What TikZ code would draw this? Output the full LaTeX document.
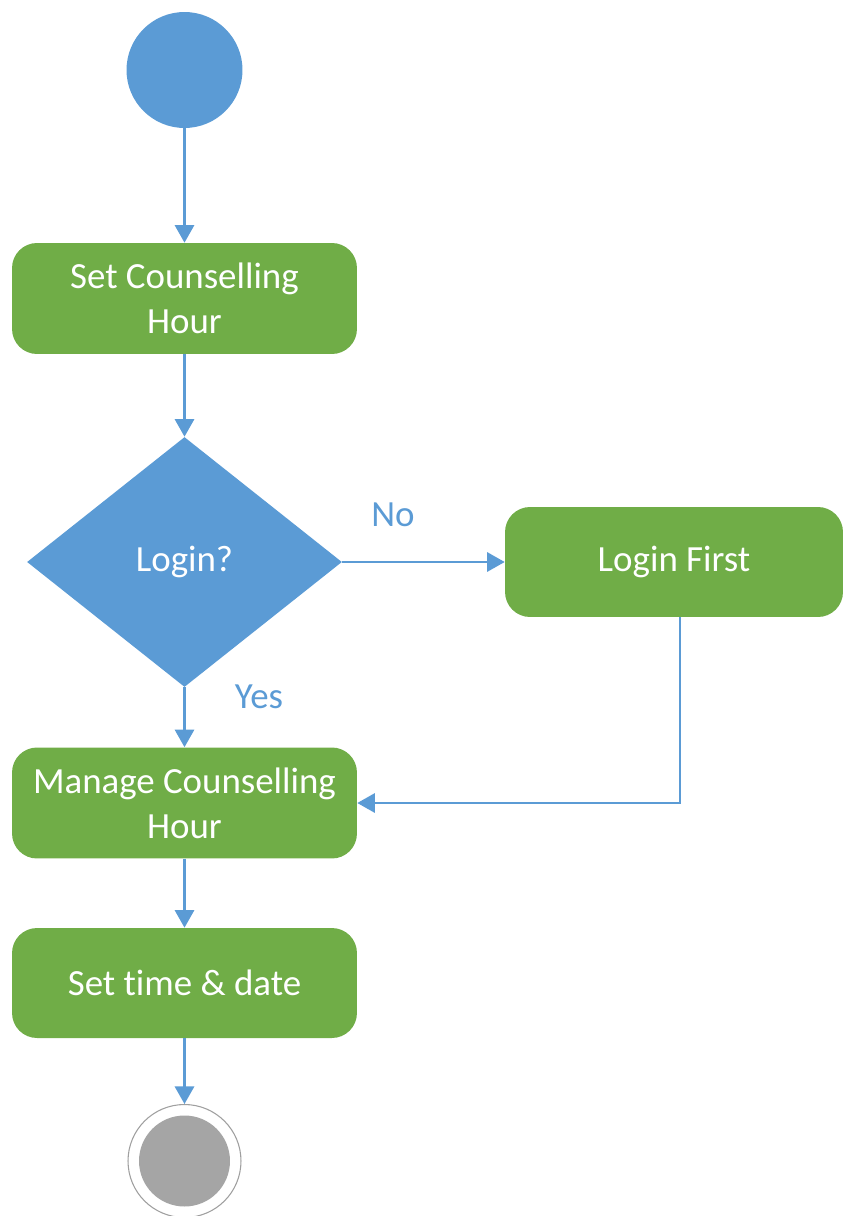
\documentclass[tikz,border=0pt]{standalone}
\usepackage{fontspec}
\setmainfont{Carlito}[Ligatures=NoCommon]
\usetikzlibrary{positioning,shapes.geometric,arrows.meta}

\definecolor{actblue}{HTML}{5B9BD5}
\definecolor{actgreen}{HTML}{70AD47}
\definecolor{endgrey}{HTML}{A5A5A5}

\tikzset{
  activity/.style={fill=actgreen, rounded corners=0.5cm, minimum width=6.9cm, minimum height=2.22cm,
    text=white, align=center, inner sep=2pt, font=\fontsize{21}{25.5}\selectfont},
  decision/.style={diamond, fill=actblue, minimum width=6.3cm, minimum height=5cm, inner sep=0pt,
    text=white, font=\fontsize{21}{25.5}\selectfont},
  guard/.style={text=actblue, font=\fontsize{21}{25.5}\selectfont},
  flow/.style={draw=actblue, line width=1.2pt, -{Triangle[width=11pt,length=10pt]}},
}

\begin{document}
\begin{tikzpicture}[x=0.02cm,y=-0.02cm]
\useasboundingbox (0,0) rectangle (843,1216);

		\node[circle, fill=actblue, minimum size=2.32cm, inner sep=0pt] (start) at (184.5,70) {};
		\node[activity] (sethour) at (184.5,298.5) {Set Counselling\\Hour};
		\node[decision] (login) at (184.5,562) {Login?};
		\node[activity, minimum width=6.76cm, minimum height=2.2cm] (loginfirst) at (674,562) {Login First};
		\node[activity] (manage) at (184.5,803) {Manage Counselling\\Hour};
		\node[activity, minimum height=2.2cm] (settime) at (184.5,983) {Set time \& date};

		\node[circle, draw=gray!75, line width=0.6pt, fill=white, minimum size=2.26cm, inner sep=0pt] (endring) at (184.5,1161) {};
		\node[circle, fill=endgrey, minimum size=1.82cm, inner sep=0pt] (endstate) at (endring) {};

		\node[guard] (nolabel) at (393,515) {No};
		\node[guard] (yeslabel) at (259,697) {Yes};

\draw[flow] (start) -- (sethour);
\draw[flow] (sethour) -- (login);
\draw[flow] (login.east) -- (loginfirst.west);
\draw[flow] (login.south) -- (manage);
\draw[flow] ([xshift=0.12cm]loginfirst.south) |- (manage.east);
\draw[flow] (manage) -- (settime);
\draw[flow] (settime) -- (endring);

\end{tikzpicture}
\end{document}
